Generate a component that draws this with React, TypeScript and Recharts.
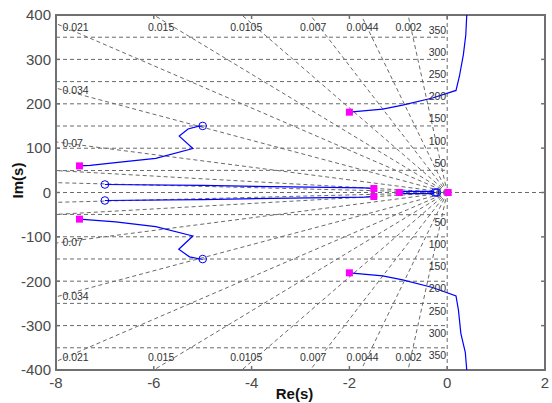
import React from 'react';
import {
  ComposedChart,
  XAxis,
  YAxis,
  Line,
  Scatter,
  ReferenceLine,
  ReferenceArea,
} from 'recharts';

// ---- axes ----
const xTicks = [-8, -6, -4, -2, 0, 2];
const yTicks = [-400, -300, -200, -100, 0, 100, 200, 300, 400];
const xDomain: [number, number] = [-8, 2];
const yDomain: [number, number] = [-400, 400];

// ---- s-plane grid ----
const dampingLabeled = [0.002, 0.0044, 0.007, 0.0105, 0.015, 0.021, 0.034, 0.07];
const dampingExtra = [0.16, 0.34];
const naturalFreqs = [50, 100, 150, 200, 250, 300, 350];

const dampingTopLabels = [
  { text: '0.021', x: -7.6 },
  { text: '0.015', x: -5.85 },
  { text: '0.0105', x: -4.11 },
  { text: '0.007', x: -2.74 },
  { text: '0.0044', x: -1.73 },
  { text: '0.002', x: -0.79 },
];
const dampingSideLabels = [
  { text: '0.034', x: -7.6, y: 232 },
  { text: '0.07', x: -7.66, y: 111 },
];

// ---- root locus branches ----
const branchUpperLeft = [
  { x: -7.52, y: 60 }, { x: -7.3, y: 61 }, { x: -6.64, y: 69 }, { x: -5.96, y: 77 },
  { x: -5.2, y: 99 }, { x: -5.48, y: 127 }, { x: -5.3, y: 143 }, { x: -5.1, y: 149 },
  { x: -5.0, y: 150 },
];
const branchLowerLeft = [
  { x: -7.52, y: -60 }, { x: -6.78, y: -66 }, { x: -5.96, y: -77 }, { x: -5.2, y: -98 },
  { x: -5.49, y: -128 }, { x: -5.27, y: -145 }, { x: -5.0, y: -151 },
];
const branchInnerUpper = [
  { x: -7.0, y: 18 }, { x: -5.0, y: 16 }, { x: -3.2, y: 12.5 }, { x: -1.7, y: 10.5 }, { x: -1.5, y: 9 },
];
const branchInnerLower = [
  { x: -7.0, y: -18 }, { x: -5.0, y: -16 }, { x: -3.2, y: -12.5 }, { x: -1.7, y: -10.5 }, { x: -1.5, y: -9 },
];
const branchRealUpper = [
  { x: -0.98, y: 0 }, { x: -0.85, y: 2.5 }, { x: -0.32, y: 2.5 }, { x: -0.25, y: 0 },
];
const branchRealLower = [
  { x: -0.98, y: 0 }, { x: -0.85, y: -2.5 }, { x: -0.32, y: -2.5 }, { x: -0.25, y: 0 },
];
const branchOuterUpper = [
  { x: -2.0, y: 181 }, { x: -1.32, y: 188 }, { x: -0.91, y: 197 }, { x: -0.3, y: 213 },
  { x: 0.18, y: 230 }, { x: 0.25, y: 262 }, { x: 0.33, y: 310 }, { x: 0.38, y: 355 }, { x: 0.4, y: 400 },
];
const branchOuterLower = [
  { x: -2.0, y: -181 }, { x: -1.32, y: -188 }, { x: -0.91, y: -197 }, { x: -0.3, y: -214 },
  { x: 0.18, y: -233 }, { x: 0.23, y: -265 }, { x: 0.28, y: -318 }, { x: 0.37, y: -360 }, { x: 0.4, y: -400 },
];

const closedLoopPoles = [
  { x: -7.52, y: 60 }, { x: -7.52, y: -60 }, { x: -1.5, y: 9 }, { x: -1.5, y: -9 },
  { x: -0.98, y: 0 }, { x: 0.02, y: 0 }, { x: -2.0, y: 181 }, { x: -2.0, y: -181 },
];
const openLoopZeros = [
  { x: -5.0, y: 150 }, { x: -5.0, y: -150 }, { x: -7.0, y: 18 }, { x: -7.0, y: -18 },
  { x: -0.25, y: 0 }, { x: -0.21, y: 0 },
];

// ---- derived grid geometry ----
const GRID = '#6a6a6a';
const DASH = '4 3';
const FONT = 'Liberation Sans, Arial, sans-serif';

function rayEnd(zeta: number, sign: number) {
  const slope = Math.sqrt(1 - zeta * zeta) / zeta;
  const xAtTop = -yDomain[1] / slope;
  if (xAtTop >= xDomain[0]) return { x: xAtTop, y: sign * yDomain[1] };
  return { x: xDomain[0], y: sign * -xDomain[0] * slope };
}

const rays = [...dampingLabeled, ...dampingExtra].flatMap((z) => [
  [{ x: 0, y: 0 }, rayEnd(z, 1)],
  [{ x: 0, y: 0 }, rayEnd(z, -1)],
]);

const arcXs = [-8, -6, -4, -2, -1, 0];
const arcs = naturalFreqs.flatMap((wn) => [
  arcXs.map((x) => ({ x, y: Math.sqrt(wn * wn - x * x) })),
  arcXs.map((x) => ({ x, y: -Math.sqrt(wn * wn - x * x) })),
]);

const gridText = [
  ...dampingTopLabels.map((d) => ({ ...d, y: 373, anchor: 'middle' })),
  ...dampingTopLabels.map((d) => ({ ...d, y: -371, anchor: 'middle' })),
  ...dampingSideLabels.map((d) => ({ ...d, anchor: 'middle' })),
  ...dampingSideLabels.map((d) => ({ ...d, y: -d.y - 1, anchor: 'middle' })),
  ...naturalFreqs.map((wn) => ({ text: String(wn), x: -0.02, y: wn + 17, anchor: 'end' })),
  ...naturalFreqs.map((wn) => ({ text: String(wn), x: -0.02, y: -wn - 16, anchor: 'end' })),
];

const xTickMarks = xTicks.flatMap((x) => [
  [{ x, y: -400 }, { x, y: -391 }],
  [{ x, y: 400 }, { x, y: 391 }],
]);
const yTickMarks = yTicks.flatMap((y) => [
  [{ x: -8, y }, { x: -7.92, y }],
  [{ x: 2, y }, { x: 1.92, y }],
]);

const tickStyle = { fill: '#4a4a4a', fontSize: 15, fontFamily: FONT };

const GridLabel = (p: any) => {
  const cx = p.cx ?? p.x;
  const cy = p.cy ?? p.y;
  return (
    <text
      x={cx}
      y={cy}
      textAnchor={p.payload.anchor}
      dominantBaseline="central"
      fontSize={10.5}
      fontFamily={FONT}
      fill="#333"
    >
      {p.payload.text}
    </text>
  );
};

const PoleMarker = (p: any) => (
  <rect x={p.cx - 3.5} y={p.cy - 3.5} width={7} height={7} fill="#ff00ff" />
);

const ZeroMarker = (p: any) => (
  <circle cx={p.cx} cy={p.cy} r={3.8} fill="none" stroke="#0000ff" strokeWidth={1} />
);

const XTitle = (p: any) => {
  const vb = p.viewBox;
  return (
    <text
      x={vb.x + vb.width / 2 - 6}
      y={vb.y + 29}
      textAnchor="middle"
      fontSize={15}
      fontWeight="bold"
      fontFamily={FONT}
      fill="#111"
    >
      Re(s)
    </text>
  );
};

const YTitle = (p: any) => {
  const vb = p.viewBox;
  const cx = vb.x + 17;
  const cy = vb.y + vb.height / 2 - 12;
  return (
    <text
      x={cx}
      y={cy}
      transform={`rotate(-90, ${cx}, ${cy})`}
      textAnchor="middle"
      dominantBaseline="central"
      fontSize={15}
      fontWeight="bold"
      fontFamily={FONT}
      fill="#111"
    >
      Im(s)
    </text>
  );
};

const branches = [
  branchUpperLeft, branchLowerLeft, branchInnerUpper, branchInnerLower,
  branchRealUpper, branchRealLower, branchOuterUpper, branchOuterLower,
];

export default function App() {
  return (
    <div style={{ position: 'absolute', left: 0, top: 0, background: '#fff' }}>
      <ComposedChart width={552} height={403} margin={{ top: 15, right: 7, bottom: 0, left: 0 }}>
        <XAxis
          type="number"
          dataKey="x"
          domain={xDomain}
          ticks={xTicks}
          allowDataOverflow
          axisLine={false}
          tickLine={false}
          tickSize={0}
          tickMargin={7}
          height={33}
          tick={tickStyle}
          label={{ content: XTitle }}
        />
        <YAxis
          type="number"
          dataKey="y"
          domain={yDomain}
          ticks={yTicks}
          allowDataOverflow
          axisLine={false}
          tickLine={false}
          tickSize={0}
          tickMargin={5}
          width={56}
          tick={tickStyle}
          label={{ content: YTitle }}
        />

        {arcs.map((pts, i) => (
          <Line key={`arc${i}`} data={pts} dataKey="y" type="linear" dot={false}
            stroke={GRID} strokeWidth={1} strokeDasharray={DASH} isAnimationActive={false} />
        ))}
        {rays.map((seg, i) => (
          <ReferenceLine key={`ray${i}`} segment={seg} stroke={GRID} strokeWidth={1} strokeDasharray={DASH} />
        ))}
        <ReferenceLine segment={[{ x: -8, y: 0 }, { x: 2, y: 0 }]} stroke={GRID} strokeDasharray={DASH} />
        <ReferenceLine segment={[{ x: 0, y: -400 }, { x: 0, y: 400 }]} stroke={GRID} strokeDasharray={DASH} />

        <Scatter data={gridText} shape={GridLabel} isAnimationActive={false} />

        {branches.map((pts, i) => (
          <Line key={`br${i}`} data={pts} dataKey="y" type="linear" dot={false}
            stroke="#0000ff" strokeWidth={1.2} isAnimationActive={false} />
        ))}

        <Scatter data={openLoopZeros} shape={ZeroMarker} isAnimationActive={false} />
        <Scatter data={closedLoopPoles} shape={PoleMarker} isAnimationActive={false} />

        <ReferenceArea x1={-8} x2={2} y1={-400} y2={400} fill="none" fillOpacity={0}
          stroke="#707070" strokeWidth={2} />
        {[...xTickMarks, ...yTickMarks].map((seg, i) => (
          <ReferenceLine key={`tk${i}`} segment={seg} stroke="#707070" strokeWidth={1.5} />
        ))}
      </ComposedChart>
    </div>
  );
}
